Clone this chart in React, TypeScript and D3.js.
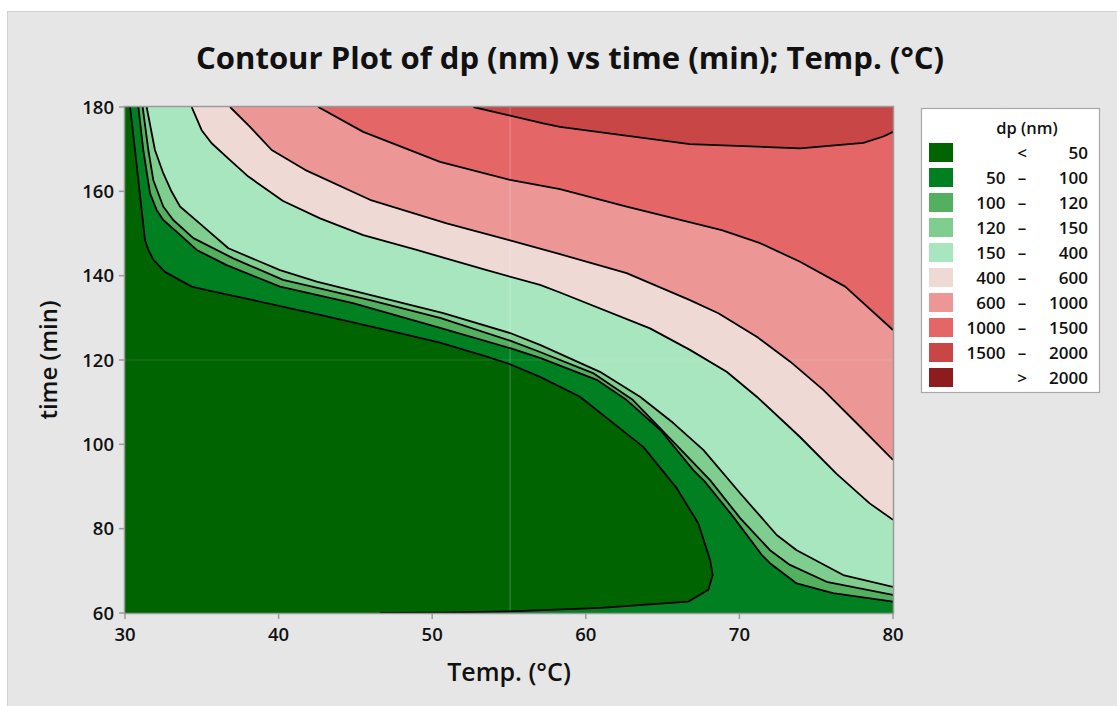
import React from "react";
import * as d3 from "d3";

type Pt = [number, number]; // [Temp (°C), time (min)]

const W = 1117;
const H = 706;

const xTicks = [30, 40, 50, 60, 70, 80];
const yTicks = [60, 80, 100, 120, 140, 160, 180];

// legend rows: low bound, sign, high bound
const legendLow = ["", "50", "100", "120", "150", "400", "600", "1000", "1500", ""];
const legendSign = ["<", "–", "–", "–", "–", "–", "–", "–", "–", ">"];
const legendHigh = ["50", "100", "120", "150", "400", "600", "1000", "1500", "2000", "2000"];

const bandColors = [
  "#006400",
  "#008020",
  "#52b05e",
  "#7fce8f",
  "#a8e6bf",
  "#efd9d4",
  "#ec9696",
  "#e46666",
  "#c84646",
  "#8e1b1e",
];

// contour lines (dp = 50, 100, 120, 150, 400, 600, 1000, 1500)
const c50: Pt[] = [
  [30.33, 180], [30.65, 169.8], [31.3, 148.5], [31.52, 146.1], [31.84, 143.8],
  [32.6, 140.9], [34.34, 137.4], [35.53, 136.4], [36.84, 135.4], [42.7, 130.7],
  [47.04, 127.1], [50.51, 124.1], [53.55, 120.8], [55.07, 119.0], [57.02, 116.0],
  [59.62, 111.3], [63.74, 99.4], [65.92, 89.6], [67.32, 81.3], [68.09, 72.6],
  [68.26, 69.0], [67.98, 65.5], [66.67, 62.7], [60.97, 61.2], [55.07, 60.4],
  [50.51, 60.1], [46.6, 60],
];
const c100: Pt[] = [
  [30.87, 180], [31.19, 169.8], [31.63, 159.5], [32.06, 155.6], [32.49, 153.2],
  [33.37, 150.4], [34.67, 146.1], [36.62, 142.5], [40.09, 137.4], [44.84, 133.5],
  [50.51, 127.6], [55.07, 122.8], [57.02, 120.5], [60.71, 115.3], [62.66, 110.5],
  [64.86, 103.4], [67.0, 93.9], [67.76, 91.1], [69.6, 82.8], [71.45, 73.8],
  [71.99, 71.8], [73.73, 67.0], [76.09, 64.7], [80, 62.7],
];
const c120: Pt[] = [
  [31.15, 180], [31.52, 169.8], [31.84, 162.7], [32.49, 156.4], [33.14, 153.2],
  [34.45, 148.9], [37.05, 144.1], [40.29, 139.0], [45.95, 134.2], [50.51, 130.0],
  [55.07, 124.6], [57.02, 121.9], [60.47, 116.9], [63.07, 110.5], [66.2, 98.7],
  [68.09, 91.5], [70.05, 82.5], [71.99, 74.9], [73.29, 71.4], [75.68, 67.4],
  [80, 64.3],
];
const c150: Pt[] = [
  [31.41, 180], [31.95, 169.8], [32.49, 164.3], [33.04, 159.9], [33.58, 156.4],
  [34.99, 152.0], [36.73, 146.5], [40.09, 141.3], [42.48, 138.6], [50.72, 131.1],
  [55.07, 126.4], [57.02, 123.6], [60.92, 117.2], [63.53, 111.3], [65.68, 105.1],
  [67.65, 98.7], [70.05, 88.4], [72.43, 78.5], [73.73, 74.9], [76.76, 69.0],
  [80, 66.2],
];
const c400: Pt[] = [
  [34.34, 180], [34.99, 174.5], [35.64, 171.4], [36.84, 167.4], [38.03, 163.5],
  [40.29, 157.7], [42.7, 153.6], [45.51, 149.6], [48.99, 146.1], [53.55, 141.3],
  [57.02, 137.8], [58.32, 136.0], [64.18, 127.5], [66.78, 122.4], [69.17, 117.2],
  [71.13, 111.3], [73.93, 101.8], [76.33, 93.0], [78.48, 86.0], [80, 82.1],
];
const c600: Pt[] = [
  [36.84, 180], [38.14, 175.3], [39.55, 169.8], [41.72, 165.1], [45.95, 158.0],
  [50.94, 152.4], [54.95, 148.5], [58.32, 145.1], [62.66, 140.6], [66.78, 134.2],
  [68.63, 131.1], [71.13, 125.5], [73.31, 119.6], [75.46, 112.9], [77.64, 105.0],
  [80, 96.3],
];
const c1000: Pt[] = [
  [42.58, 180], [45.51, 174.1], [50.51, 167.0], [55.07, 162.7], [58.32, 160.5],
  [62.66, 156.4], [68.85, 150.8], [71.35, 147.7], [73.95, 143.3], [76.89, 137.4],
  [80, 127.1],
];
const c1500: Pt[] = [
  [52.68, 180], [57.23, 176.1], [58.32, 175.3], [66.78, 171.2], [73.95, 170.2],
  [78.07, 171.5], [79.37, 173.0], [80, 174.1],
];

const contourLines = [c50, c100, c120, c150, c400, c600, c1000, c1500];

const FONT = "'Open Sans', 'Noto Sans', sans-serif";

const plot = { left: 125, right: 893, top: 107, bottom: 613 };

export default function App() {
  const x = d3.scaleLinear().domain([30, 80]).range([plot.left, plot.right]);
  const y = d3.scaleLinear().domain([60, 180]).range([plot.bottom, plot.top]);

  const line = d3
    .line<Pt>()
    .x((d) => x(d[0]))
    .y((d) => y(d[1]));

  // region above a contour: the line, then around the upper-right plot corners
  const regionPath = (pts: Pt[]) => {
    const end = pts[pts.length - 1];
    const closing: Pt[] = end[1] <= 60 ? [[80, 60], [80, 180]] : [[80, 180]];
    return line([...pts, ...closing]) + "Z";
  };

  const legendX = 921;
  const legendY = 108;
  const rowY = (i: number) => 152.5 + i * 25;

  return (
    <svg
      width={W}
      height={H}
      style={{ position: "absolute", left: 0, top: 0, background: "#ffffff" }}
      fontFamily={FONT}
    >
      <rect x={7.5} y={11.5} width={W} height={H} fill="#e6e6e6" stroke="#d2d2d2" />

      <text
        x={570}
        y={69}
        textAnchor="middle"
        fontSize={30}
        fontWeight={700}
        fill="#111"
        textLength={748}
        lengthAdjust="spacingAndGlyphs"
      >
        Contour Plot of dp (nm) vs time (min); Temp. (°C)
      </text>

      <defs>
        <clipPath id="plot-clip">
          <rect
            x={plot.left}
            y={plot.top}
            width={plot.right - plot.left}
            height={plot.bottom - plot.top}
          />
        </clipPath>
      </defs>

      <g clipPath="url(#plot-clip)">
        <rect
          x={plot.left}
          y={plot.top}
          width={plot.right - plot.left}
          height={plot.bottom - plot.top}
          fill={bandColors[0]}
        />
        {contourLines.map((pts, i) => (
          <path key={"r" + i} d={regionPath(pts)} fill={bandColors[i + 1]} />
        ))}
        {/* faint reference lines */}
        <line
          x1={x(55.07)}
          x2={x(55.07)}
          y1={plot.top}
          y2={plot.bottom}
          stroke="#ffffff"
          strokeOpacity={0.25}
        />
        <line
          x1={plot.left}
          x2={plot.right}
          y1={y(120)}
          y2={y(120)}
          stroke="#ffffff"
          strokeOpacity={0.12}
        />
        {contourLines.map((pts, i) => (
          <path
            key={"l" + i}
            d={line(pts) || ""}
            fill="none"
            stroke="#000"
            strokeWidth={1.8}
            strokeLinejoin="round"
          />
        ))}
      </g>

      <rect
        x={plot.left - 0.5}
        y={plot.top - 0.5}
        width={plot.right - plot.left + 1}
        height={plot.bottom - plot.top + 1}
        fill="none"
        stroke="#9a9a9a"
        strokeWidth={1.5}
      />

      {xTicks.map((t) => (
        <g key={"x" + t}>
          <line x1={x(t)} x2={x(t)} y1={plot.bottom} y2={plot.bottom + 6} stroke="#9a9a9a" strokeWidth={1.5} />
          <text x={x(t)} y={plot.bottom + 28} textAnchor="middle" fontSize={18.5} fontWeight={600} fill="#111">
            {t}
          </text>
        </g>
      ))}
      {yTicks.map((t) => (
        <g key={"y" + t}>
          <line x1={plot.left - 6} x2={plot.left} y1={y(t)} y2={y(t)} stroke="#9a9a9a" strokeWidth={1.5} />
          <text x={plot.left - 11} y={y(t) + 6.5} textAnchor="end" fontSize={18.5} fontWeight={600} fill="#111">
            {t}
          </text>
        </g>
      ))}

      <text x={509} y={681} textAnchor="middle" fontSize={25} fontWeight={600} fill="#111">
        Temp. (°C)
      </text>
      <text
        transform={`translate(57,${(plot.top + plot.bottom) / 2}) rotate(-90)`}
        textAnchor="middle"
        fontSize={24}
        fontWeight={600}
        fill="#111"
      >
        time (min)
      </text>

      <rect x={legendX + 0.5} y={legendY + 0.5} width={178} height={284} fill="#ffffff" stroke="#a8a8a8" strokeWidth={1.2} />
      <text x={1027} y={134} textAnchor="middle" fontSize={16.5} fontWeight={600} fill="#111">
        dp (nm)
      </text>
      {legendHigh.map((hi, i) => (
        <g key={"lg" + i}>
          <rect x={929} y={rowY(i) - 9.5} width={24} height={19} fill={bandColors[i]} />
          <text x={1005.5} y={rowY(i) + 6} textAnchor="end" fontSize={17} fontWeight={600} fill="#111">
            {legendLow[i]}
          </text>
          <text x={1022} y={rowY(i) + 6} textAnchor="middle" fontSize={17} fontWeight={600} fill="#111">
            {legendSign[i]}
          </text>
          <text x={1088} y={rowY(i) + 6} textAnchor="end" fontSize={17} fontWeight={600} fill="#111">
            {hi}
          </text>
        </g>
      ))}
    </svg>
  );
}
